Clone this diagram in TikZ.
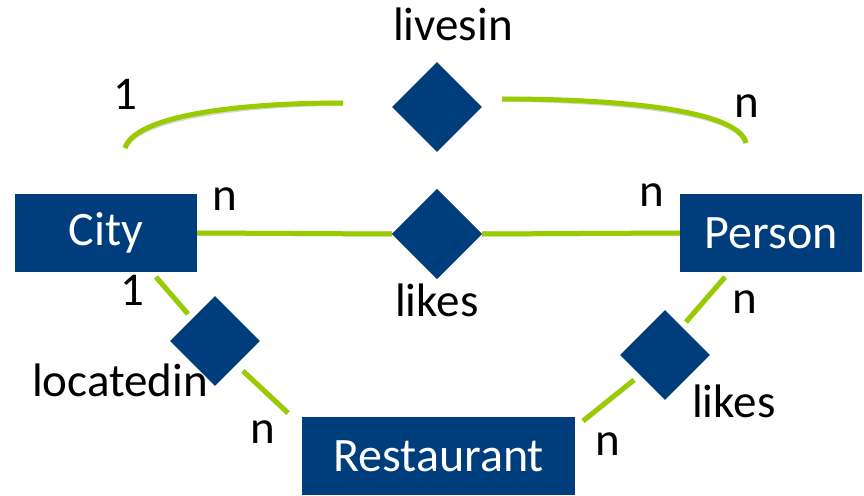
\documentclass[tikz,border=0pt]{standalone}
\usepackage{fontspec}
\setmainfont{Carlito}
\usetikzlibrary{shapes.geometric}
\definecolor{erblue}{RGB}{0,61,125}
\definecolor{ergreen}{RGB}{153,204,0}
\begin{document}
\begin{tikzpicture}[x=1pt,y=-1pt,
 entity/.style={fill=erblue, text=white, inner sep=0pt, minimum width=182pt, minimum height=78pt, font=\fontsize{48}{52}\selectfont},
 rel/.style={diamond, fill=erblue, inner sep=0pt, minimum width=90pt, minimum height=90pt, aspect=1},
 lbl/.style={anchor=base west, inner sep=0pt, font=\fontsize{47}{50}\selectfont, text=black},
 link/.style={draw=ergreen, line width=5pt},
 linkshade/.style={draw=black, opacity=0.15, line width=5pt, shift={(1.5,2)}},
]
\useasboundingbox (0,0) rectangle (864,495);
% entities
\node[entity] (city) at (106,233) {City};
\node[entity] (person) at (771,233) {Person};
\node[entity, minimum width=273pt] (restaurant) at (438.5,456) {Restaurant};
% relationships
\node[rel] (livesin) at (437,107) {};
\node[rel] (likesM) at (437,234) {};
\node[rel] (likesR) at (665,355) {};
% connector end points
\coordinate (la) at (125,148);
\coordinate (lb) at (343,103);
\coordinate (ra) at (502,99);
\coordinate (rb) at (746,143);
\coordinate (ca) at (156,277);
\coordinate (cb) at (188,314);
\coordinate (cc) at (243,371);
\coordinate (cd) at (288,413);
\coordinate (pa) at (725,277);
\coordinate (pb) at (686,322);
\coordinate (pc) at (634,380);
\coordinate (pd) at (583,421);
% shadows
\begin{scope}[linkshade]
\draw (la) .. controls (135,117) and (230,103) .. (lb);
\draw (ra) .. controls (620,99) and (738,110) .. (rb);
\draw (city.east) -- (likesM.west);
\draw (likesM.east) -- (person.west);
\draw (ca) -- (cb);
\draw (cc) -- (cd);
\draw (pa) -- (pb);
\draw (pc) -- (pd);
\end{scope}
% connectors
\draw[link] (la) .. controls (135,117) and (230,103) .. (lb);
\draw[link] (ra) .. controls (620,99) and (738,110) .. (rb);
\draw[link] (city.east) -- (likesM.west);
\draw[link] (likesM.east) -- (person.west);
\draw[link] (ca) -- (cb);
\draw[link] (cc) -- (cd);
\draw[link] (pa) -- (pb);
\draw[link] (pc) -- (pd);
% redraw nodes on top
\node[entity] at (city) {City};
\node[entity] at (person) {Person};
\node[rel] at (likesM) {};
% labels
\node[lbl] (tLivesin) at (393,41) {livesin};
\node[lbl] (tLikesM) at (395,316) {likes};
\node[lbl] (tLocatedin) at (32,396) {locatedin};
\node[lbl] (tLikesR) at (692,417) {likes};
\node[lbl] (c1) at (113,109) {1};
\node[lbl] (c2) at (734,117) {n};
\node[lbl] (c3) at (212,210) {n};
\node[lbl] (c4) at (639,206) {n};
\node[lbl] (c5) at (120,305) {1};
\node[lbl] (c6) at (732,313) {n};
\node[lbl] (c7) at (250,443) {n};
\node[lbl] (c8) at (595,455) {n};
% locatedin diamond over its label
\node[rel] (locatedin) at (215,341) {};
\end{tikzpicture}
\end{document}
